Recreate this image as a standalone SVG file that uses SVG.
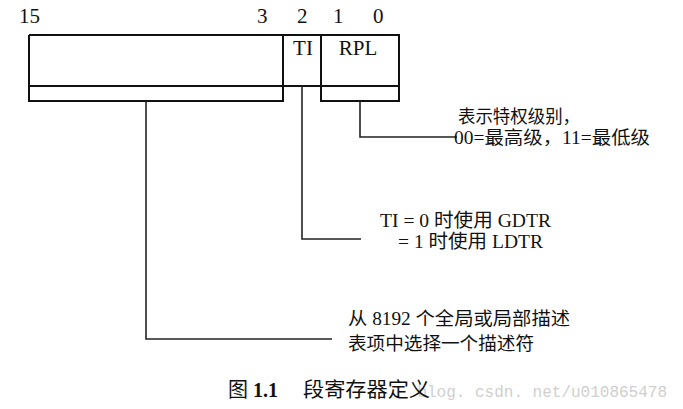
<svg xmlns="http://www.w3.org/2000/svg" width="683" height="409" viewBox="0 0 683 409">
<style>
.t{font-family:"Liberation Serif","Noto Sans CJK SC",serif;fill:#111;}
.ln{fill:none;stroke:#111;stroke-width:2;}
.c{fill:none;stroke:#222;stroke-width:1.6;}
</style>
<rect width="683" height="409" fill="#fff"/>
<text x="667" y="397" text-anchor="end" font-family="Liberation Mono, monospace" font-size="16" fill="#cfcfcf">blog. csdn. net/u010865478</text>
<g id="bits">
<text class="t" x="19" y="23" font-size="21">15</text>
<text class="t" x="257" y="23" font-size="21">3</text>
<text class="t" x="297" y="23" font-size="21">2</text>
<text class="t" x="333" y="23" font-size="21">1</text>
<text class="t" x="373" y="23" font-size="21">0</text>
</g>
<g id="register">
<path class="ln" d="M29,35 H399 V101 H321 V35 M29,35 V101 H283 V35 M29,86 H399"/>
<text class="t" x="303" y="55" font-size="21" text-anchor="middle">TI</text>
<text class="t" x="358" y="55" font-size="21" text-anchor="middle">RPL</text>
</g>
<g id="connectors">
<path class="c" d="M360,101 V137 H457"/>
<path class="c" d="M302,86 V239 H361"/>
<path class="c" d="M146,101 V339 H332"/>
</g>
<g id="rpl-note">
<text class="t" x="458" y="123" font-size="18" textLength="122" lengthAdjust="spacingAndGlyphs">表示特权级别，</text>
<text class="t" x="454" y="144" font-size="18" textLength="196" lengthAdjust="spacingAndGlyphs">00=最高级，11=最低级</text>
</g>
<g id="ti-note">
<text class="t" x="380" y="227" font-size="19" textLength="171" lengthAdjust="spacingAndGlyphs">TI = 0 时使用 GDTR</text>
<text class="t" x="398" y="248" font-size="19" textLength="145" lengthAdjust="spacingAndGlyphs">= 1 时使用 LDTR</text>
</g>
<g id="index-note">
<text class="t" x="348" y="325" font-size="18" textLength="222" lengthAdjust="spacingAndGlyphs">从 8192 个全局或局部描述</text>
<text class="t" x="348" y="350" font-size="18" textLength="186" lengthAdjust="spacingAndGlyphs">表项中选择一个描述符</text>
</g>
<g id="caption">
<text class="t" x="228" y="397" font-size="20">图 <tspan font-weight="bold">1.1</tspan></text>
<text class="t" x="303" y="397" font-size="20" textLength="127" lengthAdjust="spacingAndGlyphs">段寄存器定义</text>
</g>
</svg>
